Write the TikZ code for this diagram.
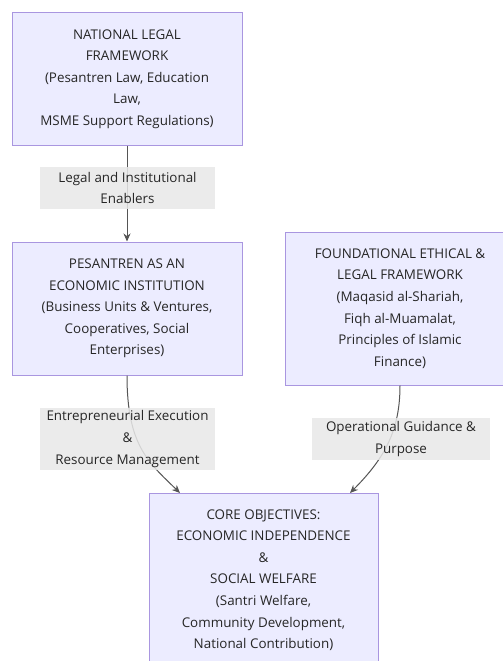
\documentclass[tikz,border=0pt]{standalone}
\usepackage{fontspec}
\setmainfont{Open Sans}
\usetikzlibrary{arrows.meta}
\definecolor{boxfill}{HTML}{ECECFF}
\definecolor{boxline}{HTML}{A996E0}
\definecolor{labelfill}{HTML}{E8E8E8}
\definecolor{txt}{HTML}{262626}
\definecolor{edge}{HTML}{555555}
\begin{document}
\begin{tikzpicture}[x = 1pt, y = -1pt,
		box/.style = {draw = boxline, fill = boxfill, line width = 1pt, align = center, text = txt, inner sep = 0pt, minimum width = 230pt},
		edgelabel/.style = {fill = labelfill, fill opacity = .85, text opacity = 1, align = center, text = txt, inner sep = 0pt},
		flow/.style = {draw = edge, line width = 1pt, -{Stealth[length = 8pt, width = 7pt]}},
		every node/.style = {font = \fontsize{13.4}{21.6}\selectfont}]
		\useasboundingbox (0,0) rectangle (503,661);
		
		\node (national) at (127,79) [box, minimum height = 132pt] {NATIONAL LEGAL\\FRAMEWORK\\(Pesantren Law, Education\\Law,\\MSME Support Regulations)};
		\node (pesantren) at (127,308.5) [box, minimum height = 133pt] {PESANTREN AS AN\\ECONOMIC INSTITUTION\\(Business Units \& Ventures,\\Cooperatives, Social\\Enterprises)};
		\node (foundation) at (400,308.5) [box, minimum height = 153pt] {FOUNDATIONAL ETHICAL \&\\LEGAL FRAMEWORK\\(Maqasid al-Shariah,\\Fiqh al-Muamalat,\\Principles of Islamic\\Finance)};
		\node (core) at (263.5,580) [box, minimum width = 229pt, minimum height = 174pt] {CORE OBJECTIVES:\\ECONOMIC INDEPENDENCE\\\&\\SOCIAL WELFARE\\(Santri Welfare,\\Community Development,\\National Contribution)};
		
		\coordinate (core-l) at (180,493);
		\coordinate (core-r) at (350,493);
		
		\draw [flow] (national) -- (pesantren);
		\draw [flow] (pesantren.south) .. controls (127,445) and (148,462) .. (core-l);
		\draw [flow] (foundation.south) .. controls (400,430) and (385,458) .. (core-r);
		
		\node (enablers) at (127.5,188) [edgelabel, minimum width = 175pt, minimum height = 42pt] {Legal and Institutional\\Enablers};
		\node (execution) at (127.5,439) [edgelabel, minimum width = 175pt, minimum height = 62pt] {Entrepreneurial Execution\\\&\\Resource Management};
		\node (guidance) at (401,439) [edgelabel, minimum width = 178pt, minimum height = 42pt] {Operational Guidance \&\\Purpose};
\end{tikzpicture}
\end{document}
